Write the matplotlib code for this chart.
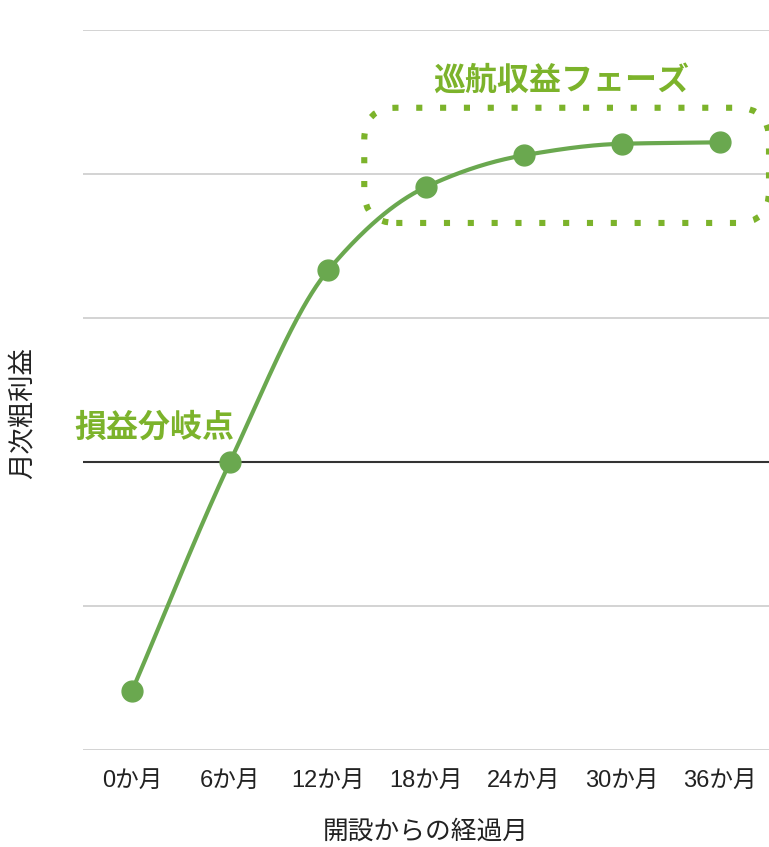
import numpy as np
import matplotlib
matplotlib.use("Agg")
import matplotlib.pyplot as plt
from matplotlib.patches import FancyBboxPatch
from matplotlib.transforms import IdentityTransform

plt.rcParams['font.family'] = ['Liberation Sans', 'Noto Sans CJK JP', 'DejaVu Sans']

months = ["0か月", "6か月", "12か月", "18か月", "24か月", "30か月", "36か月"]
profit = [-1.59, 0.0, 1.33, 1.91, 2.13, 2.21, 2.22]
xlabel = "開設からの経過月"
ylabel = "月次粗利益"
label_breakeven = "損益分岐点"
label_cruise = "巡航収益フェーズ"

line_color = "#6aa84f"
accent = "#7cb32b"

def pchip(x, y, xs):
    x = np.asarray(x, float); y = np.asarray(y, float)
    h = np.diff(x); d = np.diff(y) / h
    n = len(x); m = np.zeros(n)
    for k in range(1, n - 1):
        if d[k - 1] * d[k] > 0:
            w1 = 2 * h[k] + h[k - 1]; w2 = h[k] + 2 * h[k - 1]
            m[k] = (w1 + w2) / (w1 / d[k - 1] + w2 / d[k])
    m[0] = d[0]; m[-1] = d[-1]
    out = np.empty_like(xs)
    for i, xv in enumerate(xs):
        k = min(np.searchsorted(x, xv, side='right') - 1, n - 2)
        t = (xv - x[k]) / h[k]
        h00 = 2*t**3 - 3*t**2 + 1; h10 = t**3 - 2*t**2 + t
        h01 = -2*t**3 + 3*t**2; h11 = t**3 - t**2
        out[i] = h00*y[k] + h10*h[k]*m[k] + h01*y[k+1] + h11*h[k]*m[k+1]
    return out

fig = plt.figure(figsize=(7.69, 8.47), dpi=100)
ax = fig.add_axes([83/769, 97/847, 1 - 83/769, (750-30)/847])

xs = np.arange(len(months))
xf = np.linspace(0, len(months) - 1, 400)
ax.plot(xf, pchip(xs, profit, xf), color=line_color, lw=3, zorder=3, solid_capstyle='round')
ax.plot(xs, profit, 'o', color=line_color, ms=15, zorder=4)

ax.set_xlim(-0.5, len(months) - 0.5)
ax.set_ylim(-2, 3)
for yv in [-2, -1, 1, 2, 3]:
    ax.axhline(yv, color="#d0d0d0", lw=1.3, zorder=1)
ax.axhline(0, color="#333333", lw=1.5, zorder=2)
for s in ax.spines.values():
    s.set_visible(False)
ax.set_yticks([])
ax.set_xticks(xs)
ax.set_xticklabels(months, fontsize=17, color="#222222")
ax.tick_params(axis='x', length=0, pad=14)
ax.set_xlabel(xlabel, fontsize=18.5, color="#222222", labelpad=20)
fig.text(22/769, 1 - 413/847, ylabel, rotation=90, fontsize=19, color="#222222",
         ha='center', va='center')

ax.text(-0.59, 0.24, label_breakeven, fontsize=23, fontweight='bold', color=accent,
        ha='left', va='center', family=['Noto Sans CJK JP'])
ax.text(4.38, 2.65, label_cruise, fontsize=23, fontweight='bold', color=accent,
        ha='center', va='center', family=['Noto Sans CJK JP'])

# dotted rounded box around the cruise phase (defined in data units, drawn in pixels)
fig.canvas.draw()
(x0, y0) = ax.transData.transform((2.37, 1.66))
(x1, y1) = ax.transData.transform((6.50, 2.46))
box = FancyBboxPatch((x0, y0), x1 - x0, y1 - y0,
                     boxstyle="round,pad=0,rounding_size=32",
                     transform=IdentityTransform(),
                     fill=False, edgecolor=accent, lw=4.4, linestyle=(0, (1, 2.9)),
                     capstyle='butt', clip_on=False, zorder=5)
fig.add_artist(box)

fig.savefig("out.png", dpi=100)
